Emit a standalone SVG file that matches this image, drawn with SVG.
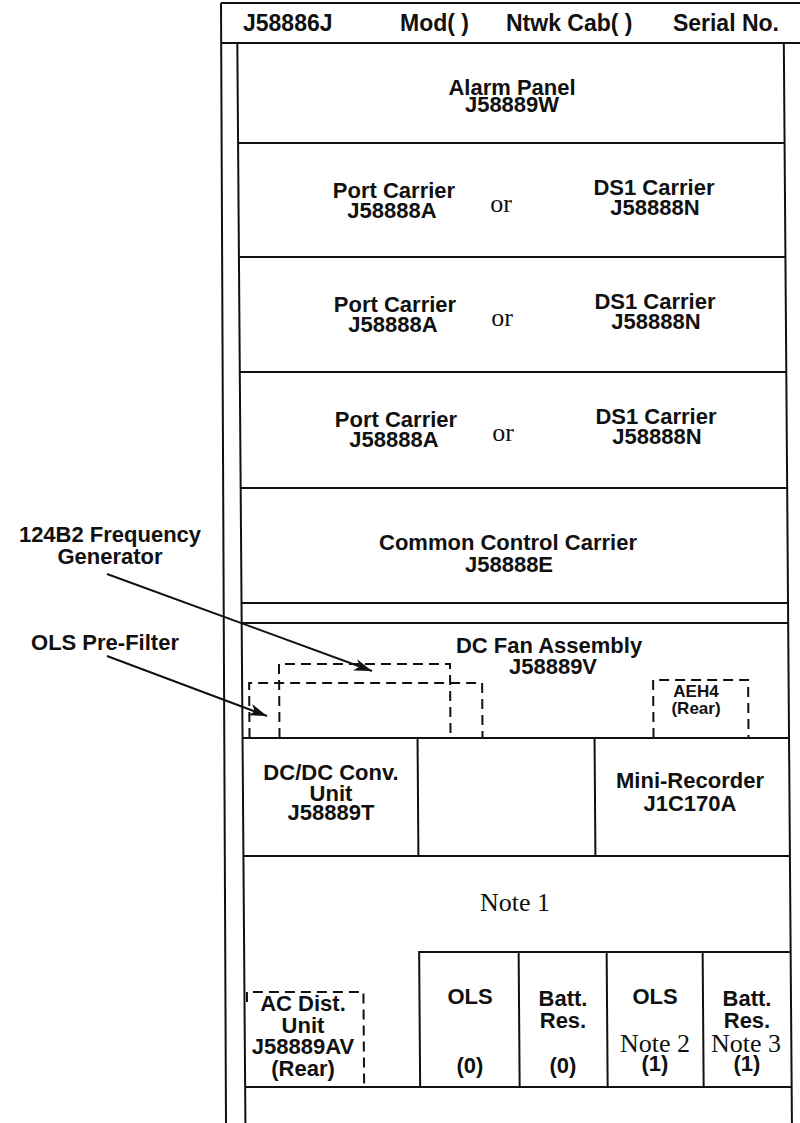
<svg xmlns="http://www.w3.org/2000/svg" width="800" height="1123" viewBox="0 0 800 1123">
<style>
.ln{stroke:#111;stroke-width:2;fill:none}
.ds{stroke:#111;stroke-width:2;fill:none;stroke-dasharray:10 6}
.t{font-family:"Liberation Sans",Arial,sans-serif;font-weight:bold;font-size:22px;fill:#111;text-anchor:middle}
.h{font-family:"Liberation Sans",Arial,sans-serif;font-weight:bold;font-size:23px;fill:#111}
.s{font-family:"Liberation Serif","Times New Roman",serif;font-size:26px;fill:#111;text-anchor:middle}
.sm{font-size:17px}
</style>
<defs>
<marker id="ah" markerUnits="userSpaceOnUse" markerWidth="20" markerHeight="12" refX="18" refY="6" orient="auto">
<path d="M0,0 L18,6 L0,12 L5,6 z" fill="#111"/>
</marker>
</defs>
<rect width="800" height="1123" fill="#fff"/>
<g id="frame">
<path class="ln" d="M221,3 L226,1123 M221,3 H800"/>
<path class="ln" transform="matrix(1 0 0.0075 1 0 0)" d="M237,43 V1123 M783.5,43 V1123"/>
</g>
<g id="header">
<path class="ln" d="M221,43 H800"/>
<text class="h" x="243" y="31">J58886J</text>
<text class="h" x="400" y="31">Mod( )</text>
<text class="h" x="506" y="31">Ntwk Cab( )</text>
<text class="h" x="779" y="31" text-anchor="end">Serial No.</text>
</g>
<g id="alarm-panel">
<path class="ln" transform="matrix(1 0 0.0075 1 0 0)" d="M237,143 H783.5"/>
<text class="t" x="512" y="95">Alarm Panel</text>
<text class="t" x="512" y="112">J58889W</text>
</g>
<g id="carrier-1">
<path class="ln" transform="matrix(1 0 0.0075 1 0 0)" d="M237,257 H783.5"/>
<text class="t" x="394" y="198">Port Carrier</text>
<text class="t" x="392" y="218">J58888A</text>
<text class="s" x="501" y="212">or</text>
<text class="t" x="654" y="195">DS1 Carrier</text>
<text class="t" x="655" y="215">J58888N</text>
</g>
<g id="carrier-2">
<path class="ln" transform="matrix(1 0 0.0075 1 0 0)" d="M237,372 H783.5"/>
<text class="t" x="395" y="312">Port Carrier</text>
<text class="t" x="393" y="332">J58888A</text>
<text class="s" x="502" y="326">or</text>
<text class="t" x="655" y="309">DS1 Carrier</text>
<text class="t" x="656" y="329">J58888N</text>
</g>
<g id="carrier-3">
<path class="ln" transform="matrix(1 0 0.0075 1 0 0)" d="M237,488 H783.5"/>
<text class="t" x="396" y="427">Port Carrier</text>
<text class="t" x="394" y="447">J58888A</text>
<text class="s" x="503" y="441">or</text>
<text class="t" x="656" y="424">DS1 Carrier</text>
<text class="t" x="657" y="444">J58888N</text>
</g>
<g id="common-control">
<path class="ln" transform="matrix(1 0 0.0075 1 0 0)" d="M237,603 H783.5"/>
<text class="t" x="508" y="550">Common Control Carrier</text>
<text class="t" x="509" y="572">J58888E</text>
</g>
<g id="spacer">
<path class="ln" transform="matrix(1 0 0.0075 1 0 0)" d="M237,623 H783.5"/>
</g>
<g id="dc-fan">
<g transform="matrix(1 0 0.0075 1 0 0)">
<path class="ln" d="M237,738 H783.5"/>
<path class="ds" d="M274,738 V664 H445 V738"/>
<path class="ds" d="M244,738 V683 H477 V738"/>
</g>
<text class="t" x="549" y="653">DC Fan Assembly</text>
<text class="t" x="553" y="674">J58889V</text>
</g>
<g id="aeh4">
<path class="ds" transform="matrix(1 0 0.0075 1 0 0)" d="M648,738 V680 H743 V738"/>
<text class="t sm" x="696" y="697">AEH4</text>
<text class="t sm" x="696" y="714">(Rear)</text>
</g>
<g id="dcdc">
<path class="ln" transform="matrix(1 0 0.0075 1 0 0)" d="M412,738 V856"/>
<text class="t" x="331" y="780">DC/DC Conv.</text>
<text class="t" x="331" y="801">Unit</text>
<text class="t" x="331" y="820">J58889T</text>
</g>
<g id="blank-cell">
<path class="ln" transform="matrix(1 0 0.0075 1 0 0)" d="M589,738 V856"/>
</g>
<g id="mini-recorder">
<path class="ln" transform="matrix(1 0 0.0075 1 0 0)" d="M237,856 H783.5"/>
<text class="t" x="690" y="788">Mini-Recorder</text>
<text class="t" x="690" y="811">J1C170A</text>
</g>
<g id="note1">
<text class="s" x="515" y="911">Note 1</text>
</g>
<g id="ac-dist">
<path class="ds" transform="matrix(1 0 0.0075 1 0 0)" d="M239.5,1002 V992 H356 V1087"/>
<text class="t" x="303" y="1011">AC Dist.</text>
<text class="t" x="303" y="1033">Unit</text>
<text class="t" x="303" y="1054">J58889AV</text>
<text class="t" x="303" y="1076">(Rear)</text>
</g>
<g id="ols-0">
<path class="ln" transform="matrix(1 0 0.0075 1 0 0)" d="M412,1087 V952 H511.5 V1087"/>
<text class="t" x="470" y="1004">OLS</text>
<text class="t" x="470" y="1073">(0)</text>
</g>
<g id="batt-0">
<path class="ln" transform="matrix(1 0 0.0075 1 0 0)" d="M511.5,952 H599.5 V1087"/>
<text class="t" x="563" y="1006">Batt.</text>
<text class="t" x="563" y="1028">Res.</text>
<text class="t" x="563" y="1073">(0)</text>
</g>
<g id="ols-1">
<path class="ln" transform="matrix(1 0 0.0075 1 0 0)" d="M599.5,952 H695.5 V1087"/>
<text class="t" x="655" y="1004">OLS</text>
<text class="s" x="655" y="1052">Note 2</text>
<text class="t" x="655" y="1071">(1)</text>
</g>
<g id="batt-1">
<path class="ln" transform="matrix(1 0 0.0075 1 0 0)" d="M695.5,952 H783.5"/>
<text class="t" x="747" y="1006">Batt.</text>
<text class="t" x="747" y="1028">Res.</text>
<text class="s" x="746" y="1052">Note 3</text>
<text class="t" x="747" y="1071">(1)</text>
</g>
<g id="bottom-row">
<path class="ln" transform="matrix(1 0 0.0075 1 0 0)" d="M237,1087 H783.5"/>
</g>
<g id="label-freq-gen">
<text class="t" x="110" y="542">124B2 Frequency</text>
<text class="t" x="110" y="564">Generator</text>
</g>
<g id="label-ols-prefilter">
<text class="t" x="105" y="650">OLS Pre-Filter</text>
</g>
<g id="connectors">
<path class="ln" stroke-width="2.5" d="M107,574 L372,671" marker-end="url(#ah)"/>
<path class="ln" stroke-width="2.5" d="M107,656 L267,716" marker-end="url(#ah)"/>
</g>
</svg>
